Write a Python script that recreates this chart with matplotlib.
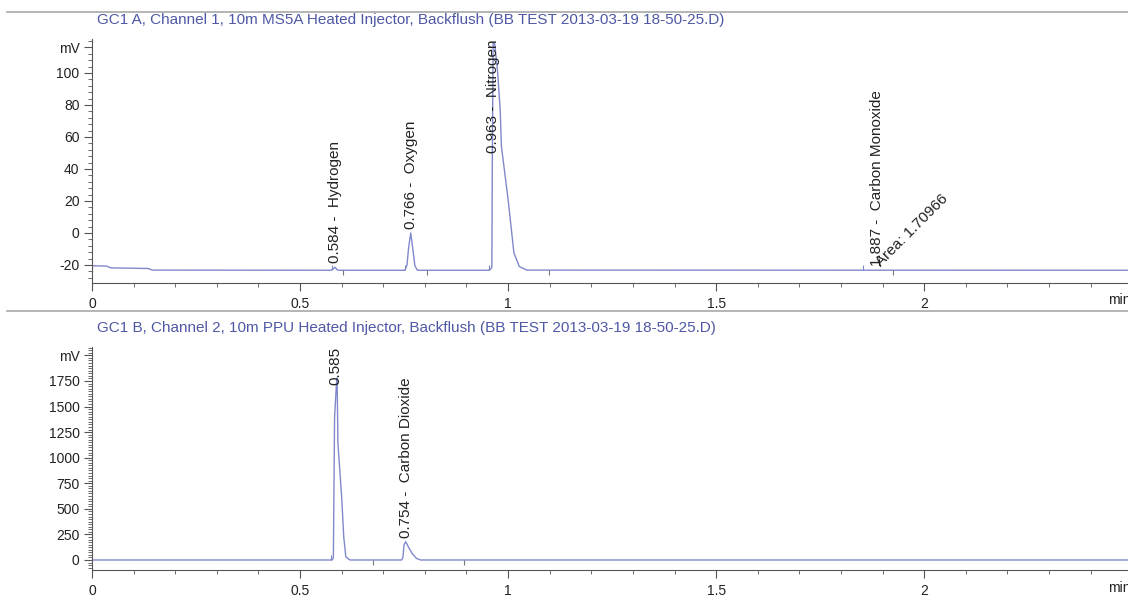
import numpy as np
import matplotlib.pyplot as plt
from matplotlib.lines import Line2D
from matplotlib.ticker import MultipleLocator, FixedLocator

plt.rcParams['font.family'] = ['Liberation Sans', 'DejaVu Sans']

TRACE = '#8088cc'
TITLE = '#4f58a4'
INK = '#222222'
RULE = '#a8a8a8'

# channel A (MS5A) trace, minutes / mV
a_time = [0.0, 0.035, 0.045, 0.135, 0.145, 0.574, 0.580, 0.584, 0.589, 0.594,
          0.752, 0.757, 0.761, 0.766, 0.771, 0.776, 0.782,
          0.955, 0.959, 0.961, 0.962, 0.964, 0.968, 0.975, 0.981, 0.984,
          1.000, 1.014, 1.027, 1.045, 2.49]
a_mv = [-20.5, -20.7, -21.8, -22.2, -23.2, -23.3, -22.4, -21.4, -23.0, -23.3,
        -23.3, -20.0, -9.0, 0.0, -10.0, -20.5, -23.3,
        -23.3, -22.2, -21.5, 40.0, 119.0, 118.0, 100.0, 77.0, 54.0,
        21.0, -12.5, -21.0, -23.2, -23.3]

# channel B (PPU) trace
b_time = [0.0, 0.577, 0.580, 0.583, 0.587, 0.589, 0.591, 0.600, 0.605, 0.610, 0.620,
          0.744, 0.747, 0.750, 0.754, 0.760, 0.770, 0.780, 0.790, 2.49]
b_mv = [0.0, 0.0, 20.0, 1400.0, 1690.0, 1780.0, 1140.0, 615.0, 225.0, 30.0, 0.0,
        0.0, 20.0, 150.0, 178.0, 130.0, 60.0, 15.0, 0.0, 0.0]

# peak annotations
a_peak_rt = [0.584, 0.766, 0.963, 1.887]
a_peak_names = ['Hydrogen', 'Oxygen', 'Nitrogen', 'Carbon Monoxide']
b_peak_rt = [0.585, 0.754]
b_peak_names = ['', 'Carbon Dioxide']
co_area = 1.70966

# integration event marks (start = up, end = down)
a_start_marks = [0.576, 0.752, 0.955, 1.853]
a_end_marks = [0.604, 0.805, 1.099, 1.925]
b_start_marks = [0.574]
b_end_marks = [0.675, 0.895]

a_title = 'GC1 A, Channel 1, 10m MS5A Heated Injector, Backflush (BB TEST 2013-03-19 18-50-25.D)'
b_title = 'GC1 B, Channel 2, 10m PPU Heated Injector, Backflush (BB TEST 2013-03-19 18-50-25.D)'

a_yticks = [-20, 0, 20, 40, 60, 80, 100]
b_yticks = [0, 250, 500, 750, 1000, 1250, 1500, 1750]

LABEL_FS = 11


def style_axes(ax, ylim, yticks, ymv, yminor):
    ax.set_xlim(0, 2.49)
    ax.set_ylim(*ylim)
    for s in ['top', 'right']:
        ax.spines[s].set_visible(False)
    for s in ['left', 'bottom']:
        ax.spines[s].set_color('#555555')
        ax.spines[s].set_linewidth(0.8)
    ax.spines['left'].set_bounds(ylim[0], ylim[1])
    ax.xaxis.set_major_locator(FixedLocator([0, 0.5, 1, 1.5, 2]))
    ax.xaxis.set_major_formatter(lambda v, p: f'{v:g}')
    ax.xaxis.set_minor_locator(MultipleLocator(0.1))
    ax.yaxis.set_major_locator(FixedLocator(yticks + [ymv]))
    ax.yaxis.set_major_formatter(lambda v, p: 'mV' if v == ymv else f'{v:g}')
    ax.yaxis.set_minor_locator(MultipleLocator(yminor))
    ax.tick_params(which='major', length=6, width=0.8, color='#555555',
                   labelsize=10, labelcolor=INK, pad=3)
    ax.tick_params(which='minor', length=3, width=0.6, color='#555555')
    ax.tick_params(axis='x', which='major', pad=4)
    ax.patch.set_alpha(0)


def label_peaks(ax, t, v, rts, names, ylim):
    span = ylim[1] - ylim[0]
    for rt, name in zip(rts, names):
        text = f'{rt:.3f}' + (f' -  {name}' if name else '')
        h = np.interp(rt, t, v)
        if h - ylim[0] > 0.5 * span:
            ax.annotate(text, (rt, ylim[1]), rotation=90, ha='center', va='top',
                        fontsize=LABEL_FS, color=INK, annotation_clip=False)
        else:
            ax.annotate(text, (rt, h), xytext=(0, 3), textcoords='offset points',
                        rotation=90, ha='center', va='bottom', fontsize=LABEL_FS,
                        color=INK)


def event_marks(ax, t, v, ups, downs, size):
    for m in ups:
        b = np.interp(m, t, v)
        ax.vlines(m, b, b + size, color=TRACE, lw=0.8)
    for m in downs:
        b = np.interp(m, t, v)
        ax.vlines(m, b - size, b, color='#777777', lw=0.8)


fig = plt.figure(figsize=(11.28, 5.96), dpi=100)
ax1 = fig.add_axes([0.0816, 0.5252, 1 - 0.0816, 0.934 - 0.5252])
ax2 = fig.add_axes([0.0816, 0.0436, 1 - 0.0816, 0.4178 - 0.0436])

ylim_a = (-31.25, 121)
ylim_b = (-98, 2082)

ax1.plot(a_time, a_mv, color=TRACE, lw=1.0)
style_axes(ax1, ylim_a, a_yticks, 116, 4)
label_peaks(ax1, a_time, a_mv, a_peak_rt, a_peak_names, ylim_a)
event_marks(ax1, a_time, a_mv, a_start_marks, a_end_marks, 3)
co_base = np.interp(a_peak_rt[3], a_time, a_mv)
ax1.annotate(f'Area: {co_area:g}', (a_peak_rt[3], co_base), xytext=(4, 1),
             textcoords='offset points', rotation=45, rotation_mode='anchor',
             ha='left', va='bottom', fontsize=LABEL_FS, color=INK)

ax2.plot(b_time, b_mv, color=TRACE, lw=1.0)
style_axes(ax2, ylim_b, b_yticks, 2000, 25)
label_peaks(ax2, b_time, b_mv, b_peak_rt, b_peak_names, ylim_b)
event_marks(ax2, b_time, b_mv, b_start_marks, b_end_marks, 45)

# panel headers and separators
for y in [0.980, 0.479]:
    fig.add_artist(Line2D([0.006, 1], [y, y], color=RULE, lw=1.2))
fig.text(0.086, 0.966, a_title, color=TITLE, fontsize=11, va='center')
fig.text(0.086, 0.450, b_title, color=TITLE, fontsize=11, va='center')
fig.text(0.982, 0.497, 'min', color=INK, fontsize=10, va='center')
fig.text(0.982, 0.014, 'min', color=INK, fontsize=10, va='center')

fig.savefig('out.png', dpi=100)
